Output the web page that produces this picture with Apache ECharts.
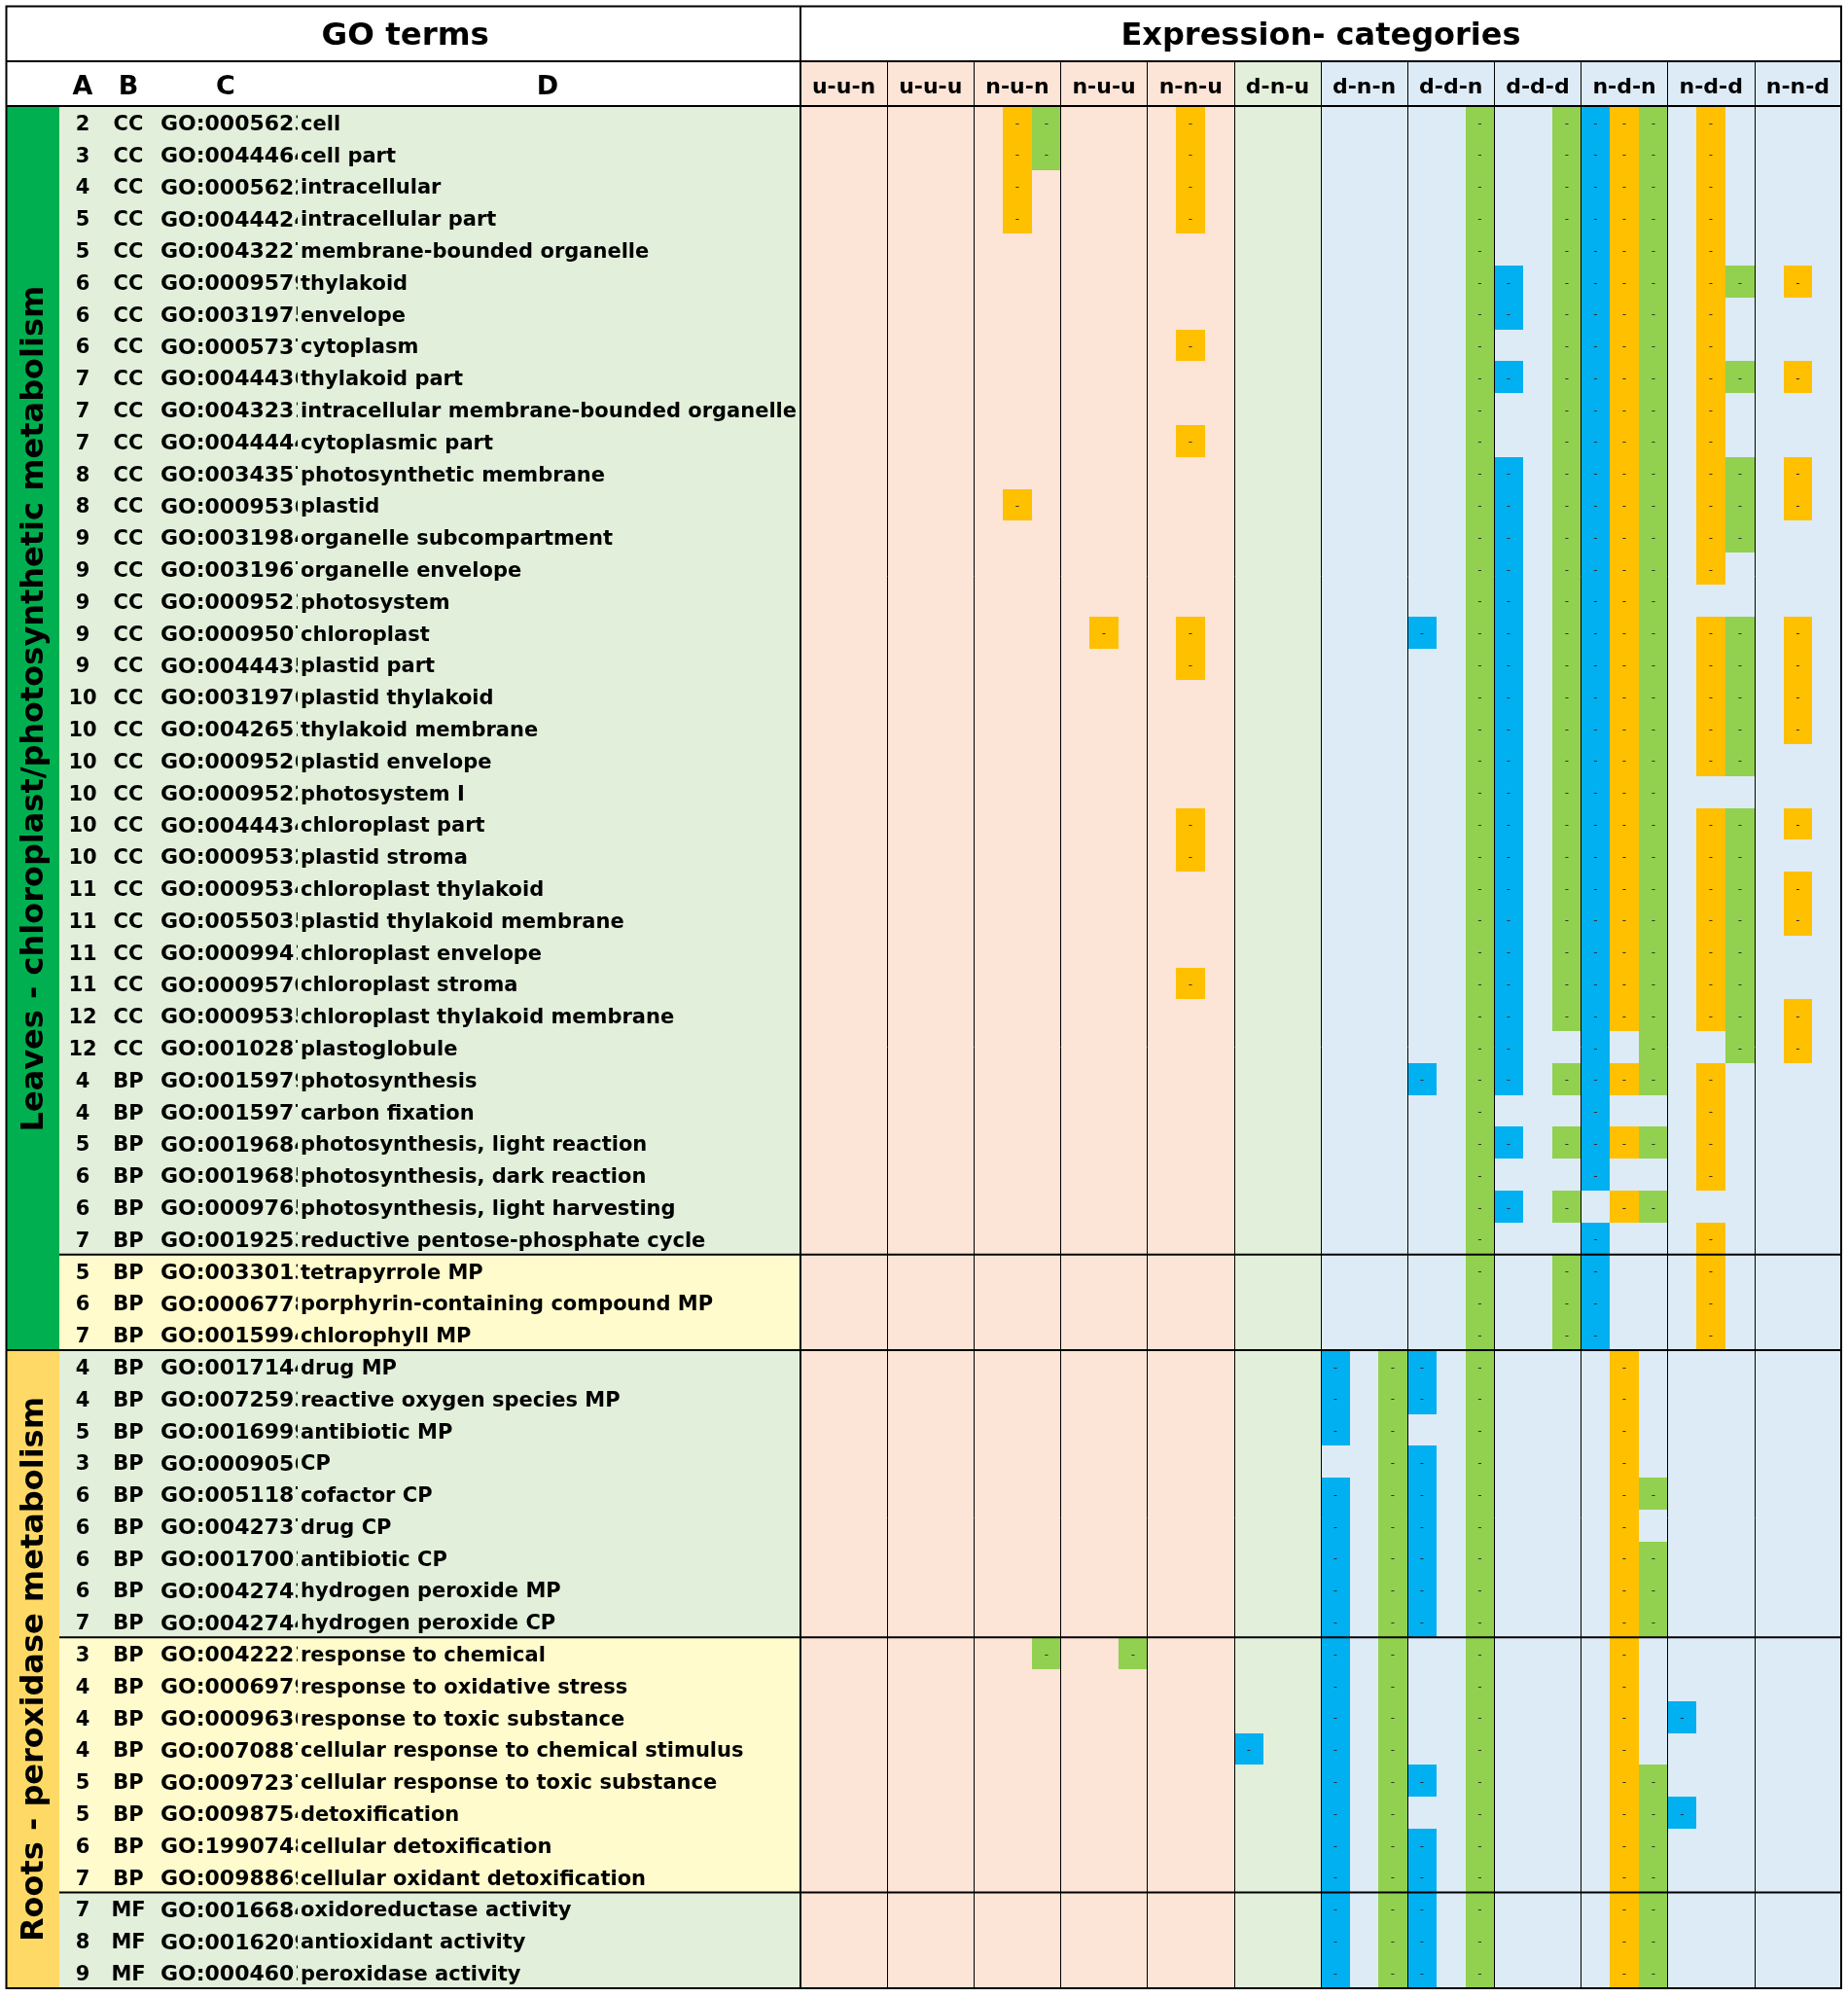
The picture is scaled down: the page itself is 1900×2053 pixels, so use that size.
<!DOCTYPE html>
<html>
<head>
<meta charset="utf-8">
<title>GO terms by expression category</title>
<script src="https://cdn.jsdelivr.net/npm/echarts@6/dist/echarts.min.js"></script>
<style>
  html, body { margin: 0; padding: 0; background: #fff; }
  #chart { width: 1900px; height: 2053px; }
</style>
</head>
<body>
<div id="chart"></div>
<script>
"use strict";

// expression categories (column headers)
var categories = ['u-u-n', 'u-u-u', 'n-u-n', 'n-u-u', 'n-n-u', 'd-n-u', 'd-n-n', 'd-d-n', 'd-d-d', 'n-d-n', 'n-d-d', 'n-n-d'];

// GO terms table, one entry per row (A, B, C, D)
var levels = [2, 3, 4, 5, 5, 6, 6, 6, 7, 7, 7, 8, 8, 9, 9, 9, 9, 9, 10, 10, 10, 10, 10, 10, 11, 11, 11, 11, 12, 12,
  4, 4, 5, 6, 6, 7, 5, 6, 7,
  4, 4, 5, 3, 6, 6, 6, 6, 7, 3, 4, 4, 4, 5, 5, 6, 7, 7, 8, 9];
var ontology = ['CC', 'CC', 'CC', 'CC', 'CC', 'CC', 'CC', 'CC', 'CC', 'CC', 'CC', 'CC', 'CC', 'CC', 'CC',
  'CC', 'CC', 'CC', 'CC', 'CC', 'CC', 'CC', 'CC', 'CC', 'CC', 'CC', 'CC', 'CC', 'CC', 'CC',
  'BP', 'BP', 'BP', 'BP', 'BP', 'BP', 'BP', 'BP', 'BP',
  'BP', 'BP', 'BP', 'BP', 'BP', 'BP', 'BP', 'BP', 'BP', 'BP', 'BP', 'BP', 'BP', 'BP', 'BP', 'BP', 'BP',
  'MF', 'MF', 'MF'];
var goIds = ['GO:0005623', 'GO:0044464', 'GO:0005622', 'GO:0044424', 'GO:0043227', 'GO:0009579', 'GO:0031975',
  'GO:0005737', 'GO:0044436', 'GO:0043231', 'GO:0044444', 'GO:0034357', 'GO:0009536', 'GO:0031984', 'GO:0031967',
  'GO:0009521', 'GO:0009507', 'GO:0044435', 'GO:0031976', 'GO:0042651', 'GO:0009526', 'GO:0009522', 'GO:0044434',
  'GO:0009532', 'GO:0009534', 'GO:0055035', 'GO:0009941', 'GO:0009570', 'GO:0009535', 'GO:0010287',
  'GO:0015979', 'GO:0015977', 'GO:0019684', 'GO:0019685', 'GO:0009765', 'GO:0019253',
  'GO:0033013', 'GO:0006778', 'GO:0015994',
  'GO:0017144', 'GO:0072593', 'GO:0016999', 'GO:0009056', 'GO:0051187', 'GO:0042737', 'GO:0017001', 'GO:0042743',
  'GO:0042744', 'GO:0042221', 'GO:0006979', 'GO:0009636', 'GO:0070887', 'GO:0097237', 'GO:0098754', 'GO:1990748',
  'GO:0098869', 'GO:0016684', 'GO:0016209', 'GO:0004601'];
var terms = ['cell', 'cell part', 'intracellular', 'intracellular part', 'membrane-bounded organelle', 'thylakoid',
  'envelope', 'cytoplasm', 'thylakoid part', 'intracellular membrane-bounded organelle', 'cytoplasmic part',
  'photosynthetic membrane', 'plastid', 'organelle subcompartment', 'organelle envelope', 'photosystem',
  'chloroplast', 'plastid part', 'plastid thylakoid', 'thylakoid membrane', 'plastid envelope', 'photosystem I',
  'chloroplast part', 'plastid stroma', 'chloroplast thylakoid', 'plastid thylakoid membrane',
  'chloroplast envelope', 'chloroplast stroma', 'chloroplast thylakoid membrane', 'plastoglobule',
  'photosynthesis', 'carbon fixation', 'photosynthesis, light reaction', 'photosynthesis, dark reaction',
  'photosynthesis, light harvesting', 'reductive pentose-phosphate cycle',
  'tetrapyrrole MP', 'porphyrin-containing compound MP', 'chlorophyll MP',
  'drug MP', 'reactive oxygen species MP', 'antibiotic MP', 'CP', 'cofactor CP', 'drug CP', 'antibiotic CP',
  'hydrogen peroxide MP', 'hydrogen peroxide CP', 'response to chemical', 'response to oxidative stress',
  'response to toxic substance', 'cellular response to chemical stimulus', 'cellular response to toxic substance',
  'detoxification', 'cellular detoxification', 'cellular oxidant detoxification',
  'oxidoreductase activity', 'antioxidant activity', 'peroxidase activity'];

// tissue sections and the row blocks inside them (first row, last row)
var sectionNames = ['Leaves - chloroplast/photosynthetic metabolism', 'Roots - peroxidase metabolism'];
var sectionRows = [[0, 38], [39, 58]];
var blockRows = [[0, 35], [36, 38], [39, 47], [48, 55], [56, 58]];

// marked cells: [category index, first row, last row]
var blueRuns = [
  [5, 51, 51],
  [6, 39, 41], [6, 43, 58],
  [7, 16, 16], [7, 30, 30], [7, 39, 40], [7, 42, 47], [7, 52, 52], [7, 54, 58],
  [8, 5, 6], [8, 8, 8], [8, 11, 30], [8, 32, 32], [8, 34, 34],
  [9, 0, 33], [9, 35, 38],
  [10, 50, 50], [10, 53, 53]
];
var orangeRuns = [
  [2, 0, 3], [2, 12, 12],
  [3, 16, 16],
  [4, 0, 3], [4, 7, 7], [4, 10, 10], [4, 16, 17], [4, 22, 23], [4, 27, 27],
  [9, 0, 28], [9, 30, 30], [9, 32, 32], [9, 34, 34], [9, 39, 58],
  [10, 0, 14], [10, 16, 20], [10, 22, 28], [10, 30, 33], [10, 35, 38],
  [11, 5, 5], [11, 8, 8], [11, 11, 12], [11, 16, 19], [11, 22, 22], [11, 24, 25], [11, 28, 29]
];
var greenRuns = [
  [2, 0, 1], [2, 48, 48],
  [3, 48, 48],
  [6, 39, 58],
  [7, 0, 58],
  [8, 0, 28], [8, 30, 30], [8, 32, 32], [8, 34, 34], [8, 36, 38],
  [9, 0, 30], [9, 32, 32], [9, 34, 34], [9, 43, 43], [9, 45, 47], [9, 52, 58],
  [10, 5, 5], [10, 8, 8], [10, 11, 13], [10, 16, 20], [10, 22, 29]
];

// layout (pixels)
var L = {
  left: 6.5, right: 1893, top: 6.5, mid: 63, head: 109, bottom: 2044,
  goRight: 823, stripeRight: 61,
  colA: 85, colB: 132, colC: 165, colD: 309
};
var FONT = '"DejaVu Sans", "Open Sans", sans-serif';
var COL = {
  up: '#FCE4D6', mixed: '#E2EFDA', down: '#DDEBF7',
  rowGreen: '#E2EFDA', rowYellow: '#FFFBCC',
  stripe: ['#00B050', '#FFD966'],
  sub: ['#00B0F0', '#FFC000', '#92D050']
};
var stripeLabelShift = [-20, 0];

var rowIdx = terms.map(function (t, i) { return i; });

function blockOf(row) {
  for (var b = 0; b < blockRows.length; b++) {
    if (row >= blockRows[b][0] && row <= blockRows[b][1]) { return b; }
  }
  return 0;
}

function columnShade(name) {
  var parts = name.split('-');
  var up = parts.indexOf('u') !== -1, down = parts.indexOf('d') !== -1;
  if (up && down) { return COL.mixed; }
  return down ? COL.down : COL.up;
}

function expandRuns(runs) {
  var out = [];
  runs.forEach(function (r) {
    for (var row = r[1]; row <= r[2]; row++) { out.push([r[0], row]); }
  });
  return out;
}

function rowSpan(api, first, last) {
  var h = api.size([0, 1])[1];
  return [api.coord([0, first])[1] - h / 2, api.coord([0, last])[1] + h / 2];
}

function headText(txt, x, y, size) {
  return {
    type: 'text', z: 100, x: x, y: y,
    style: { text: txt, fontSize: size, fontWeight: 'bold', fontFamily: FONT, fill: '#000', align: 'center', verticalAlign: 'middle' }
  };
}

/**
 * one colour of marked cells, drawn in its third of the category column
 */
function cellSeries(name, runs, sub) {
  return {
    name: name,
    type: 'custom',
    xAxisIndex: 1,
    yAxisIndex: 1,
    z: 3,
    silent: true,
    data: expandRuns(runs),
    renderItem: function (params, api) {
      var c = api.coord([api.value(0), api.value(1)]);
      var sz = api.size([1, 1]);
      var x0 = Math.round(c[0] - sz[0] / 2 + sub * sz[0] / 3);
      var x1 = Math.round(c[0] - sz[0] / 2 + (sub + 1) * sz[0] / 3);
      var y0 = Math.round(c[1] - sz[1] / 2);
      var y1 = Math.round(c[1] + sz[1] / 2);
      return {
        type: 'group',
        children: [
          { type: 'rect', shape: { x: x0, y: y0, width: x1 - x0, height: y1 - y0 }, style: { fill: COL.sub[sub] } },
          {
            type: 'text', x: (x0 + x1) / 2, y: c[1] + 2,
            style: { text: '-', fontSize: 12, fontFamily: FONT, fill: '#333', align: 'center', verticalAlign: 'middle' }
          }
        ]
      };
    }
  };
}

var chart = echarts.init(document.getElementById('chart'));

var option = {
  backgroundColor: '#fff',
  animation: false,
  grid: [
    { left: L.left, top: L.head, width: L.goRight - L.left, height: L.bottom - L.head },
    { left: L.goRight, top: L.head, width: L.right - L.goRight, height: L.bottom - L.head }
  ],
  xAxis: [
    { gridIndex: 0, type: 'value', min: 0, max: 1, show: false },
    {
      gridIndex: 1, type: 'category', data: categories, position: 'top', z: 5,
      axisLine: { show: true, lineStyle: { color: '#000', width: 2 } },
      axisTick: { show: true, interval: 0, length: L.head - L.mid, lineStyle: { color: '#000', width: 1 } },
      axisLabel: {
        interval: 0, margin: 19, verticalAlign: 'middle', color: '#000',
        fontSize: 22, fontWeight: 'bold', fontFamily: FONT
      },
      splitLine: { show: true, interval: 0, lineStyle: { color: '#000', width: 1 } }
    }
  ],
  yAxis: [
    { gridIndex: 0, type: 'category', data: rowIdx, inverse: true, show: false },
    { gridIndex: 1, type: 'category', data: rowIdx, inverse: true, show: false }
  ],
  graphic: [
    { type: 'rect', z: 100, shape: { x: L.left, y: L.top, width: L.right - L.left, height: L.bottom - L.top },
      style: { fill: null, stroke: '#000', lineWidth: 2 } },
    { type: 'line', z: 100, shape: { x1: L.left, y1: L.mid, x2: L.right, y2: L.mid }, style: { stroke: '#000', lineWidth: 2 } },
    { type: 'line', z: 100, shape: { x1: L.left, y1: L.head, x2: L.right, y2: L.head }, style: { stroke: '#000', lineWidth: 2 } },
    { type: 'line', z: 100, shape: { x1: L.goRight, y1: L.top, x2: L.goRight, y2: L.bottom }, style: { stroke: '#000', lineWidth: 2 } },
    headText('GO terms', (L.left + L.goRight) / 2 + 2, 38, 32.5),
    headText('Expression- categories', (L.goRight + L.right) / 2, 38, 32),
    headText('A', L.colA, 90, 27),
    headText('B', L.colB, 90, 27),
    headText('C', 232, 90, 27),
    headText('D', 563, 90, 27)
  ],
  series: [
    // category column shading, header cell included
    {
      type: 'custom', xAxisIndex: 1, yAxisIndex: 1, z: 1, silent: true,
      data: categories.map(function (c, i) { return [i, 0]; }),
      renderItem: function (params, api) {
        var cx = api.coord([api.value(0), 0])[0];
        var w = api.size([1, 1])[0];
        var cs = params.coordSys;
        return {
          type: 'rect',
          shape: { x: cx - w / 2, y: L.mid, width: w, height: cs.y + cs.height - L.mid },
          style: { fill: columnShade(categories[params.dataIndex]) }
        };
      }
    },
    // row blocks behind the GO terms
    {
      type: 'custom', xAxisIndex: 0, yAxisIndex: 0, z: 1, silent: true,
      data: blockRows.map(function (b) { return [0, b[0], b[1]]; }),
      renderItem: function (params, api) {
        var span = rowSpan(api, api.value(1), api.value(2));
        var cs = params.coordSys;
        return {
          type: 'rect',
          shape: { x: L.stripeRight, y: span[0], width: cs.x + cs.width - L.stripeRight, height: span[1] - span[0] },
          style: { fill: params.dataIndex % 2 ? COL.rowYellow : COL.rowGreen }
        };
      }
    },
    // section stripes with vertical titles
    {
      type: 'custom', xAxisIndex: 0, yAxisIndex: 0, z: 2, silent: true,
      data: sectionRows.map(function (s) { return [0, s[0], s[1]]; }),
      renderItem: function (params, api) {
        var i = params.dataIndex;
        var span = rowSpan(api, api.value(1), api.value(2));
        return {
          type: 'group',
          children: [
            { type: 'rect', shape: { x: L.left, y: span[0], width: L.stripeRight - L.left, height: span[1] - span[0] },
              style: { fill: COL.stripe[i] } },
            { type: 'text', x: (L.left + L.stripeRight) / 2 + 2, y: (span[0] + span[1]) / 2 + stripeLabelShift[i],
              rotation: Math.PI / 2,
              style: { text: sectionNames[i], fontSize: 32, fontWeight: 'bold', fontFamily: FONT, fill: '#000',
                align: 'center', verticalAlign: 'middle' } }
          ]
        };
      }
    },
    // GO term rows: A, B, C (cut at column D), D
    {
      type: 'custom', xAxisIndex: 0, yAxisIndex: 0, z: 4, silent: true,
      data: rowIdx.map(function (i) { return [0, i]; }),
      renderItem: function (params, api) {
        var i = params.dataIndex;
        var yc = api.coord([0, i])[1];
        var y = yc + 3;
        var h = api.size([0, 1])[1];
        var ts = function (txt, align, size) {
          return { text: txt, fontSize: size || 21, fontWeight: 'bold', fontFamily: FONT, fill: '#000', align: align, verticalAlign: 'middle' };
        };
        return {
          type: 'group',
          children: [
            { type: 'text', x: L.colA, y: y, style: ts(String(levels[i]), 'center') },
            { type: 'text', x: L.colB, y: y, style: ts(ontology[i], 'center') },
            { type: 'text', x: L.colC, y: y, style: ts(goIds[i], 'left', 22) },
            { type: 'rect', shape: { x: L.colD - 3, y: yc - h / 2, width: 16, height: h },
              style: { fill: blockOf(i) % 2 ? COL.rowYellow : COL.rowGreen } },
            { type: 'text', x: L.colD, y: y, style: ts(terms[i], 'left') }
          ]
        };
      }
    },
    // horizontal rules between row blocks
    {
      type: 'custom', xAxisIndex: 0, yAxisIndex: 0, z: 6, silent: true,
      data: blockRows.slice(1).map(function (b) { return [0, b[0]]; }),
      renderItem: function (params, api) {
        var row = api.value(1);
        var y = rowSpan(api, row, row)[0];
        var fromLeft = sectionRows.some(function (s) { return s[0] === row; });
        return {
          type: 'line',
          shape: { x1: fromLeft ? L.left : L.stripeRight, y1: y, x2: L.right, y2: y },
          style: { stroke: '#000', lineWidth: 2 }
        };
      }
    },
    cellSeries('blue', blueRuns, 0),
    cellSeries('orange', orangeRuns, 1),
    cellSeries('green', greenRuns, 2)
  ]
};

chart.setOption(option);
</script>
</body>
</html>
